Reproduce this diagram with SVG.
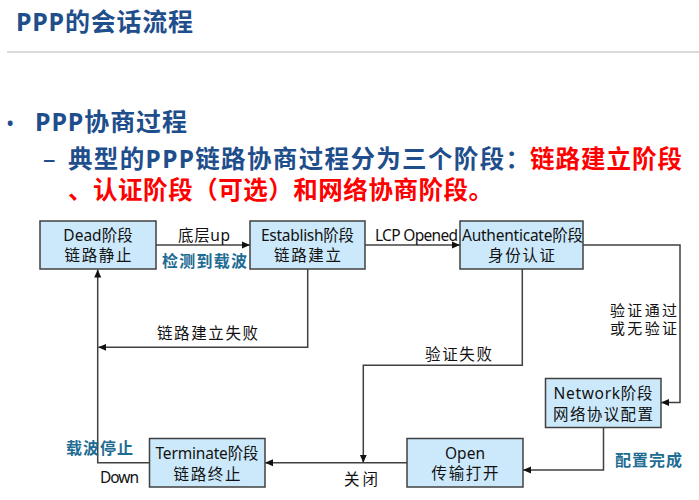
<svg xmlns="http://www.w3.org/2000/svg" width="699" height="500" viewBox="0 0 699 500">
<style>
.h{font-family:"Noto Sans","Noto Sans CJK SC",sans-serif;font-weight:bold;fill:#1f4e8c}
.r{font-family:"Noto Sans","Noto Sans CJK SC",sans-serif;font-weight:bold;fill:#ff0000}
.box{fill:#cce9fb;stroke:#404040;stroke-width:1.5}
.t{font-family:"Noto Sans","Noto Sans CJK SC",sans-serif;font-size:15.5px;fill:#111;text-anchor:middle}
.l{font-family:"Noto Sans","Noto Sans CJK SC",sans-serif;font-size:15.5px;fill:#111}
.b{font-family:"Noto Sans","Noto Sans CJK SC",sans-serif;font-size:16px;font-weight:bold;fill:#1e6c93}
.c{fill:none;stroke:#404040;stroke-width:1.5}
</style>
<defs>
<marker id="ar" markerUnits="userSpaceOnUse" markerWidth="9" markerHeight="8" refX="8" refY="4" orient="auto">
<path d="M0,0.5 L8,4 L0,7.5 z" fill="#111"/>
</marker>
</defs>
<rect width="699" height="500" fill="#fff"/>
<g id="header">
<text class="h" x="16" y="31" font-size="25" textLength="177">PPP的会话流程</text>
<line x1="7" y1="52" x2="699" y2="52" stroke="#d9d9d9" stroke-width="2"/>
<text class="h" x="6" y="131" font-size="22" style="font-weight:normal">•</text>
<text class="h" x="35" y="131" font-size="25" textLength="152">PPP协商过程</text>
<text class="h" x="43" y="168" font-size="25" style="font-weight:normal">–</text>
<text class="h" x="68" y="168" font-size="24.5" textLength="462">典型的PPP链路协商过程分为三个阶段：</text>
<text class="r" x="530" y="168" font-size="24.5" textLength="152">链路建立阶段</text>
<text class="r" x="68" y="198.5" font-size="24.5" textLength="425">、认证阶段（可选）和网络协商阶段。</text>
</g>
<g id="connectors">
<path class="c" d="M156,245 H250" marker-end="url(#ar)"/>
<path class="c" d="M365,245 H460" marker-end="url(#ar)"/>
<path class="c" d="M583,245 H680 V402.5 H661" marker-end="url(#ar)"/>
<path class="c" d="M603.5,427.5 V470 H523" marker-end="url(#ar)"/>
<path class="c" d="M407,462.7 H265" marker-end="url(#ar)"/>
<path class="c" d="M522.3,269 V365.3 H363.3 V462.7" marker-end="url(#ar)"/>
<path class="c" d="M307.7,269 V347.3 H98.3" marker-end="url(#ar)"/>
<path class="c" d="M149,462.7 H97.7 V269.5" marker-end="url(#ar)"/>
<text class="l" x="178" y="241" textLength="52">底层up</text>
<text class="b" x="162" y="267" textLength="85">检测到载波</text>
<text class="l" x="375" y="241" textLength="83">LCP Opened</text>
<text class="l" x="157" y="339" textLength="101">链路建立失败</text>
<text class="l" x="610" y="315.5" font-size="15" style="font-size:15px" textLength="67">验证通过</text>
<text class="l" x="610" y="334" font-size="15" style="font-size:15px" textLength="67">或无验证</text>
<text class="l" x="425" y="360" textLength="67">验证失败</text>
<text class="b" x="615" y="466" textLength="67">配置完成</text>
<text class="b" x="66" y="454" textLength="67">载波停止</text>
<text class="l" x="100" y="483" textLength="39">Down</text>
<text class="l" x="344" y="485" textLength="34">关闭</text>
</g>
<g id="dead">
<rect class="box" x="40" y="221" width="116" height="48"/>
<text class="t" x="98" y="241">Dead阶段</text>
<text class="t" x="98" y="261" textLength="67">链路静止</text>
</g>
<g id="establish">
<rect class="box" x="250" y="221" width="115" height="48"/>
<text class="t" x="307.5" y="241" textLength="93">Establish阶段</text>
<text class="t" x="307.5" y="261" textLength="67">链路建立</text>
</g>
<g id="authenticate">
<rect class="box" x="460" y="221" width="123" height="48"/>
<text class="t" x="522.5" y="241" textLength="121">Authenticate阶段</text>
<text class="t" x="521.5" y="261" textLength="67">身份认证</text>
</g>
<g id="network">
<rect class="box" x="545.5" y="378.5" width="115.5" height="49"/>
<text class="t" x="603" y="399" textLength="99">Network阶段</text>
<text class="t" x="603" y="420" textLength="100">网络协议配置</text>
</g>
<g id="open">
<rect class="box" x="407" y="438.5" width="116" height="48.5"/>
<text class="t" x="465" y="459">Open</text>
<text class="t" x="465" y="479" textLength="67">传输打开</text>
</g>
<g id="terminate">
<rect class="box" x="149.5" y="438.5" width="115.5" height="48.5"/>
<text class="t" x="207" y="459" textLength="103">Terminate阶段</text>
<text class="t" x="207" y="480" textLength="67">链路终止</text>
</g>
</svg>
